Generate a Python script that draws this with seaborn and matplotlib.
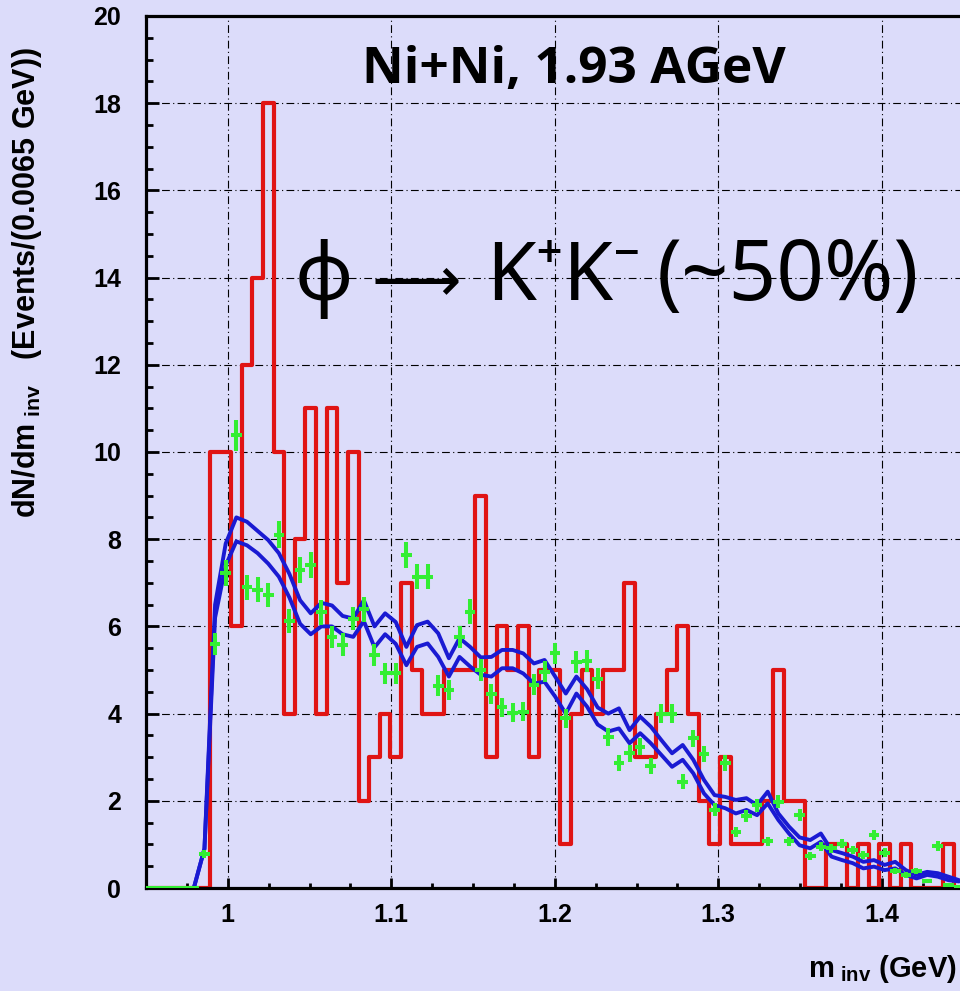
import numpy as np
import pandas as pd
import matplotlib
matplotlib.use("Agg")
import matplotlib.pyplot as plt
import seaborn as sns
from matplotlib.ticker import MultipleLocator, FixedLocator, FixedFormatter

# ---- binning (invariant mass, GeV) ----
M_LOW = 0.95
BIN_WIDTH = 0.0065
N_BINS = 77

# measured K+K- pairs per bin (red histogram)
counts = [0, 0, 0, 0, 0, 0, 10, 10, 6, 12,
          14, 18, 10, 4, 8, 11, 4, 11, 7, 10,
          2, 3, 4, 3, 7, 5, 4, 4, 5, 5,
          5, 9, 3, 6, 5, 6, 3, 5, 5, 1,
          4, 5, 4, 5, 5, 7, 3, 3, 4, 5,
          6, 4, 2, 1, 3, 1, 1, 1, 2, 5,
          2, 2, 0, 0, 1, 1, 0, 1, 0, 1,
          0, 1, 0, 0, 0, 1, 0]

# simulated spectrum (green points) and its statistical errors
sim_vals = [0, 0, 0, 0, 0, 0.78, 5.6, 7.23, 10.38, 6.9,
            6.84, 6.72, 8.1, 6.12, 7.3, 7.4, 6.32, 5.76, 5.58, 6.18,
            6.39, 5.34, 4.92, 4.92, 7.64, 7.14, 7.14, 4.64, 4.54, 5.76,
            6.34, 5.0, 4.46, 4.14, 4.02, 4.04, 4.66, 4.96, 5.38, 3.89,
            5.19, 5.21, 4.8, 3.46, 2.87, 3.09, 3.24, 2.8, 4.0, 4.0,
            2.44, 3.43, 3.07, 1.8, 2.87, 1.28, 1.65, 1.9, 1.07, 1.98,
            1.07, 1.68, 0.73, 0.95, 0.91, 1.02, 0.87, 0.76, 1.22, 0.81,
            0.38, 0.30, 0.38, 0.15, 0.97, 0.07, 0.03]
sim_err = [0, 0, 0, 0, 0, 0.10, 0.26, 0.30, 0.35, 0.29,
           0.29, 0.28, 0.31, 0.27, 0.30, 0.30, 0.28, 0.26, 0.26, 0.27,
           0.28, 0.25, 0.24, 0.24, 0.30, 0.29, 0.29, 0.24, 0.23, 0.26,
           0.28, 0.25, 0.23, 0.22, 0.22, 0.22, 0.24, 0.24, 0.25, 0.22,
           0.25, 0.25, 0.24, 0.20, 0.19, 0.19, 0.20, 0.18, 0.22, 0.22,
           0.17, 0.20, 0.19, 0.15, 0.19, 0.12, 0.14, 0.15, 0.11, 0.15,
           0.11, 0.14, 0.09, 0.11, 0.10, 0.11, 0.10, 0.10, 0.12, 0.10,
           0.07, 0.06, 0.07, 0.04, 0.11, 0.03, 0.02]

# model band (blue), upper and lower edges, starting from bin 4
band_first_bin = 4
band_hi = [0, 0.9, 6.5, 7.9, 8.5, 8.4, 8.19, 7.98, 7.68, 7.2,
           6.6, 6.3, 6.54, 6.48, 6.24, 6.18, 6.6, 6.0, 6.3, 6.1,
           5.53, 6.03, 6.11, 5.84, 5.27, 5.73, 5.53, 5.29, 5.3, 5.46,
           5.46, 5.38, 5.15, 5.23, 4.85, 4.46, 4.85, 4.56, 4.14, 4.0,
           4.12, 3.62, 3.93, 3.7, 3.39, 3.09, 3.28, 2.94, 2.48, 2.13,
           2.09, 2.02, 2.06, 1.9, 2.21, 1.71, 1.41, 1.16, 1.1, 1.25,
           0.87, 0.8, 0.72, 0.6, 0.64, 0.53, 0.6, 0.41, 0.3, 0.37,
           0.34, 0.26, 0.18]
band_lo = [0, 0.9, 6.2, 7.4, 7.95, 7.86, 7.68, 7.44, 7.14, 6.66,
           6.06, 5.82, 6.0, 6.0, 5.82, 5.76, 6.12, 5.52, 5.82, 5.6,
           5.11, 5.53, 5.61, 5.3, 4.85, 5.3, 5.08, 4.89, 4.85, 5.04,
           5.04, 4.92, 4.69, 4.73, 4.39, 4.0, 4.46, 4.16, 3.75, 3.59,
           3.66, 3.32, 3.55, 3.32, 3.05, 2.78, 2.94, 2.63, 2.17, 1.9,
           1.83, 1.71, 1.79, 1.67, 1.94, 1.56, 1.25, 0.98, 0.91, 1.06,
           0.72, 0.64, 0.57, 0.45, 0.49, 0.41, 0.45, 0.3, 0.22, 0.3,
           0.26, 0.18, 0.15]

x_ticks = [1.0, 1.1, 1.2, 1.3, 1.4]
x_tick_labels = ["1", "1.1", "1.2", "1.3", "1.4"]
y_ticks = [0, 2, 4, 6, 8, 10, 12, 14, 16, 18, 20]

title_text = "Ni+Ni, 1.93 AGeV"
decay_parts = ["\u03d5", "\u27f6", "K\u207aK\u207b", "(~50%)"]

edges = M_LOW + BIN_WIDTH * np.arange(N_BINS + 1)
centers = edges[:-1] + BIN_WIDTH / 2

hist_df = pd.DataFrame({"m": centers, "n": counts})
band_df = pd.DataFrame({
    "m": np.tile(centers[band_first_bin:], 2),
    "y": band_hi + band_lo,
    "edge": ["hi"] * len(band_hi) + ["lo"] * len(band_lo),
})

# ---- style ----
BG = "#dcdcfa"
RED = "#e01414"
BLUE = "#1a1ad2"
GREEN = "#33ee33"

sns.set_theme(style="ticks")
plt.rcParams.update({
    "font.family": ["Liberation Sans", "DejaVu Sans"],
    "font.weight": "bold",
    "mathtext.fontset": "custom",
    "mathtext.rm": "Liberation Sans:bold",
    "mathtext.bf": "Liberation Sans:bold",
    "mathtext.it": "Liberation Sans:bold",
    "axes.facecolor": BG,
    "figure.facecolor": BG,
    "text.color": "black",
    "axes.labelcolor": "black",
    "xtick.color": "black",
    "ytick.color": "black",
    "axes.edgecolor": "black",
})

W, H = 960, 991
fig = plt.figure(figsize=(W / 100, H / 100), dpi=100)
ax = fig.add_axes([146 / W, (H - 888) / H, 817.5 / W, 872 / H])
ax.set_facecolor(BG)

# grid
ax.set_axisbelow(True)
ax.grid(True, which="major", color="black", linewidth=0.8,
        linestyle=(0, (7, 3, 1, 3)))

# red histogram
sns.histplot(data=hist_df, x="m", weights="n", binwidth=BIN_WIDTH,
             binrange=(M_LOW, M_LOW + N_BINS * BIN_WIDTH), element="step",
             fill=False, color=RED, linewidth=3.0, ax=ax)

# blue model band edges
sns.lineplot(data=band_df, x="m", y="y", units="edge", estimator=None,
             color=BLUE, linewidth=2.8, ax=ax, legend=False)

# green simulated points
ax.errorbar(centers, sim_vals, yerr=sim_err, xerr=BIN_WIDTH / 2, fmt="none",
            ecolor=GREEN, elinewidth=2.9, capsize=0, zorder=5)

ax.set_xlim(M_LOW, M_LOW + 0.5)
ax.set_ylim(0, 20)
ax.set_xlabel("")
ax.set_ylabel("")

# axes / ticks
for side in ["left", "bottom", "top"]:
    ax.spines[side].set_linewidth(2.3)
    ax.spines[side].set_color("black")
    ax.spines[side].set_visible(True)
ax.spines["right"].set_visible(False)

ax.xaxis.set_major_locator(FixedLocator(x_ticks))
ax.xaxis.set_major_formatter(FixedFormatter(x_tick_labels))
ax.xaxis.set_minor_locator(MultipleLocator(0.025))
ax.yaxis.set_major_locator(FixedLocator(y_ticks))
ax.yaxis.set_minor_locator(MultipleLocator(0.5))

ax.tick_params(axis="y", which="major", direction="in", length=9, width=2,
               pad=18, labelsize=18, left=True, right=False,
               color="black", labelcolor="black")
ax.tick_params(axis="y", which="minor", direction="in", length=5, width=2,
               left=True, right=False, color="black")
ax.tick_params(axis="x", which="major", direction="in", length=7, width=2,
               pad=11, labelsize=18, bottom=True, top=False,
               color="black", labelcolor="black")
ax.tick_params(axis="x", which="minor", direction="in", length=3.5, width=2,
               bottom=True, top=False, color="black")
for lab in ax.get_xticklabels() + ax.get_yticklabels():
    lab.set_fontweight("bold")

# titles and labels
fig.text(574 / W, 1 - 83 / H, title_text, ha="center", va="baseline",
         fontsize=37, fontweight="bold", color="black",
         family=["Open Sans", "DejaVu Sans"])

decay_font = ["Noto Sans", "DejaVu Sans"]
decay_left = [295, 371, 486, 657]
decay_size = [58, 45, 58, 60]
decay_fam = [decay_font, ["DejaVu Sans"], decay_font, decay_font]
for txt, xl, fs, fam in zip(decay_parts, decay_left, decay_size, decay_fam):
    fig.text(xl / W, 1 - 300 / H, txt, ha="left", va="baseline",
             fontsize=fs, fontweight="normal", color="black", family=fam)

fig.text(27 / W, 1 - 47 / H,
         r"dN/dm$_{\ \mathrm{inv}}$   (Events/(0.0065 GeV))",
         rotation=90, ha="center", va="top", fontsize=22, fontweight="bold",
         color="black")
fig.text(957 / W, 1 - 977 / H, r"m$_{\ \mathrm{inv}}$ (GeV)",
         ha="right", va="baseline", fontsize=21, fontweight="bold",
         color="black")

fig.savefig("out.png", dpi=100, facecolor=BG)
